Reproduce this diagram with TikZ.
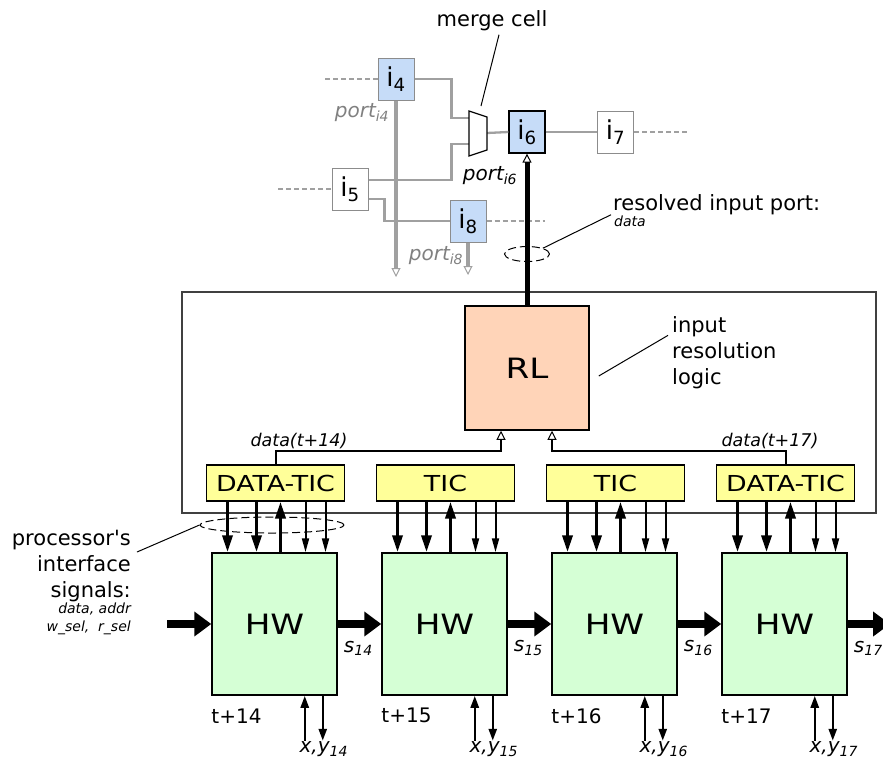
\documentclass[tikz,border=0pt]{standalone}
\usepackage{fontspec}
\setmainfont{DejaVu Sans}
\newfontfamily\widefont[FakeStretch=1.22]{DejaVu Sans}
\usetikzlibrary{positioning,arrows.meta,shapes.geometric}

\definecolor{cellblue}{HTML}{C6DCF8}
\definecolor{cellgray}{HTML}{8C8C8C}
\definecolor{wiregray}{HTML}{A0A0A0}
\definecolor{rlpeach}{HTML}{FFD4B8}
\definecolor{ticyellow}{HTML}{FFFF99}
\definecolor{hwgreen}{HTML}{D5FFD5}

\begin{document}
\begin{tikzpicture}[x=1pt, y=-1pt, every node/.style={font=\fontsize{20}{25}\selectfont}]
\tikzset{
  cell/.style={draw=cellgray, line width=1pt, fill=white, minimum width=36pt, minimum height=42pt, inner sep=0pt, font=\fontsize{26}{26}\selectfont},
  wire/.style={draw=wiregray, line width=2.3pt},
  stub/.style={wire, dash pattern=on 5pt off 3pt},
  portwire/.style={draw=wiregray, line width=4pt, -{Triangle[open, length=9pt, width=9pt, line width=1pt]}},
  frame/.style={draw=black!75, line width=1.2pt, minimum width=694pt, minimum height=221pt, inner sep=0pt},
  rlbox/.style={draw, line width=1.5pt, fill=rlpeach, minimum size=124pt, inner sep=0pt, font=\widefont\fontsize{28}{28}\selectfont},
  ticbox/.style={draw, line width=1.2pt, fill=ticyellow, minimum width=138pt, minimum height=36pt, inner sep=0pt, font=\widefont\fontsize{22}{22}\selectfont},
  hwbox/.style={draw, line width=1.5pt, fill=hwgreen, minimum width=125pt, minimum height=142pt, inner sep=0pt, font=\widefont\fontsize{28}{28}\selectfont},
  bus/.style={line width=5pt, -{Triangle[open, length=9pt, width=9pt, line width=1pt]}},
  dataline/.style={line width=2pt, -{Triangle[open, length=9pt, width=9pt, line width=1pt]}},
  sigthick/.style={line width=3.5pt, -{Triangle[length=17pt, width=10pt]}},
  sigthin/.style={line width=2pt, -{Triangle[length=14pt, width=7pt]}},
  ioarrow/.style={line width=2.5pt, -{Triangle[length=12pt, width=8pt]}},
  statearrow/.style={line width=8pt, -{Triangle[length=17pt, width=24pt]}},
  ring/.style={draw, line width=1pt, dash pattern=on 8pt off 4pt, ellipse, inner sep=0pt},
  leader/.style={line width=1pt},
  note/.style={font=\fontsize{21}{26}\selectfont, align=left, inner sep=0pt},
  smallnote/.style={font=\fontsize{14}{18}\selectfont\itshape, inner sep=0pt},
  portlbl/.style={font=\fontsize{20}{20}\selectfont\itshape, inner sep=0pt}
}
\useasboundingbox (0,0) rectangle (883,764);

% Interconnect cells
\coordinate (stub4) at (325,79);
\coordinate (stub5) at (278,189);
\coordinate (stub7) at (688,132);
\coordinate (stub8) at (545,221);
\coordinate (mcin1) at (469,118);
\coordinate (mcin2) at (469,144);
\coordinate (mcout) at (487,133);
\coordinate (mctop) at (481,106);
\coordinate (p4end) at (396,277);
\coordinate (p8end) at (468,275);

\node[cell, fill=cellblue] (i4) at (396,79) {i\textsubscript{4}};
\node[cell] (i5) at (350,189) {i\textsubscript{5}};
\node[cell, fill=cellblue, draw=black, line width=1.3pt] (i6) at (527,132) {i\textsubscript{6}};
\node[cell] (i7) at (615.5,132) {i\textsubscript{7}};
\node[cell, fill=cellblue] (i8) at (468,221) {i\textsubscript{8}};

\draw[stub] (stub4) -- (i4.west);
\draw[stub] (stub5) -- (i5.west);
\draw[stub] (i7.east) -- (stub7);
\draw[stub] (i8.east) -- (stub8);
\draw[wire] (i4.east) -- ++(37,0) |- (mcin1);
\draw[wire] ([yshift=9pt]i5.east) -- ++(83,0) |- (mcin2);
\draw[wire] ([yshift=-10pt]i5.east) -- ++(16,0) |- (i8.west);
\draw[wire] (mcout) -- (i6.west);
\draw[wire] (i6.east) -- (i7.west);
\draw[portwire] (i4.south) -- (p4end);
\draw[portwire] (i8.south) -- (p8end);
\draw[line width=1.2pt, fill=white] (469,111) -- (487,117) -- (487,150) -- (469,156) -- cycle;

\node[portlbl, text=gray] (port4) at (362,113) {port\textsubscript{i4}};
\node[portlbl] (port6) at (490,176) {port\textsubscript{i6}};
\node[portlbl, text=gray] (port8) at (436,256) {port\textsubscript{i8}};
\node[font=\fontsize{21}{21}\selectfont] (mclbl) at (492,21) {merge cell};
\draw[leader] ([xshift=7pt]mclbl.south) -- (mctop);

% Resolution tile
\node[frame] (tile) at (529,402.5) {};
\node[rlbox] (RL) at (527,368) {RL};
\draw[bus] (RL.north) -- (i6.south);
\node[ring, minimum width=45pt, minimum height=15pt] (selpt) at (527,254) {};
\node[note, anchor=north west] (reslbl) at (613,194) {resolved input port:};
\node[smallnote, anchor=north west] (resdata) at (614,216) {data};
\draw[leader] (selpt.20) -- ([xshift=-2pt]reslbl.south west);
\node[note, anchor=north west] (rllbl) at (672,316) {input\\resolution\\logic};
\draw[leader] ([xshift=9pt,yshift=-8pt]RL.east) -- ([xshift=-4pt,yshift=17pt]rllbl.west);

% Processor units
\node[ticbox] (tic1) at (275.5,483) {DATA-TIC};
\node[ticbox] (tic2) at (445.5,483) {TIC};
\node[ticbox] (tic3) at (615.5,483) {TIC};
\node[ticbox] (tic4) at (785.5,483) {DATA-TIC};
\node[hwbox] (hw1) at (274.5,624) {HW};
\node[hwbox] (hw2) at (444.5,624) {HW};
\node[hwbox] (hw3) at (614.5,624) {HW};
\node[hwbox] (hw4) at (784.5,624) {HW};

\draw[dataline] (tic1.north) -- ++(0,-13) -| ([xshift=-26pt]RL.south);
\draw[dataline] (tic4.north) -- ++(0,-13) -| ([xshift=25pt]RL.south);
\node[portlbl, font=\fontsize{17.5}{17.5}\selectfont\itshape] (d14) at (299,441) {data(t+14)};
\node[portlbl, font=\fontsize{17.5}{17.5}\selectfont\itshape] (d17) at (770,441) {data(t+17)};

\foreach \u/\t in {1/14,2/15,3/16,4/17} {
  \draw[sigthick] ([xshift=-48pt]tic\u.south) -- ([xshift=-48pt]tic\u.south |- hw\u.north);
  \draw[sigthick] ([xshift=-19pt]tic\u.south) -- ([xshift=-19pt]tic\u.south |- hw\u.north);
  \draw[sigthick] ([xshift=5pt]tic\u.south |- hw\u.north) -- ([xshift=5pt]tic\u.south);
  \draw[sigthin] ([xshift=30pt]tic\u.south) -- ([xshift=30pt]tic\u.south |- hw\u.north);
  \draw[sigthin] ([xshift=50pt]tic\u.south) -- ([xshift=50pt]tic\u.south |- hw\u.north);
  \draw[ioarrow] ([xshift=-33pt,yshift=-45pt]hw\u.south east) -- ([xshift=-33pt]hw\u.south east);
  \draw[ioarrow] ([xshift=-15pt]hw\u.south east) -- ([xshift=-15pt,yshift=-45pt]hw\u.south east);
  \node[portlbl, anchor=west] (s\u) at ([xshift=6pt,yshift=-24pt]hw\u.east) {s\textsubscript{\t}};
  \node[anchor=west, inner sep=0pt] (t\u) at ([yshift=-20pt]hw\u.south west) {t+\t};
  \node[portlbl, anchor=north] (xy\u) at ([xshift=-14pt,yshift=-46pt]hw\u.south east) {x,y\textsubscript{\t}};
}

\coordinate (inarrow) at (167,624);
\coordinate (outarrow) at (890,624);
\draw[statearrow] (inarrow) -- (hw1.west);
\draw[statearrow] (hw1.east) -- (hw2.west);
\draw[statearrow] (hw2.east) -- (hw3.west);
\draw[statearrow] (hw3.east) -- (hw4.west);
\draw[statearrow] (hw4.east) -- (outarrow);

% Interface signals
\node[ring, minimum width=144pt, minimum height=16pt] (ifsel) at (272,525) {};
\node[note, align=right, anchor=north east] (proclbl) at (131,530) {processor\textquotesingle s\\interface\\signals:};
\node[smallnote, align=right, anchor=north east] (siglbl) at (131,603) {data, addr\\w\_sel,\ \ r\_sel};
\coordinate (procpt) at (137,552);
\draw[leader] (procpt) -- (ifsel.west);
\end{tikzpicture}
\end{document}
